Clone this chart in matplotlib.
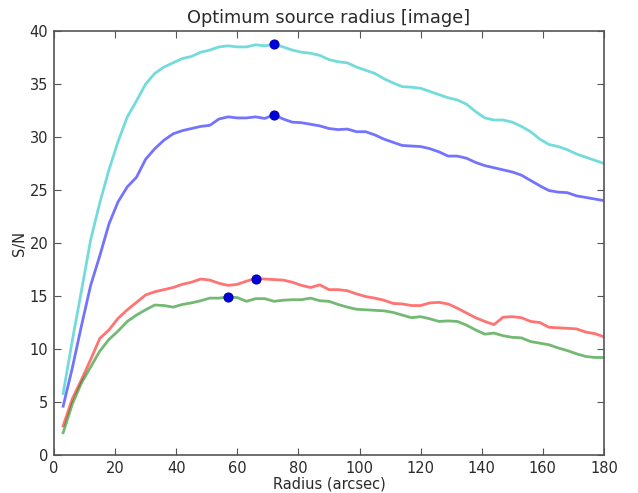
import numpy as np
import matplotlib
matplotlib.use("Agg")
import matplotlib.pyplot as plt

radius = np.arange(3, 181, 3)

sn_cyan = [5.8, 10.8, 15.5, 20.3, 23.8, 26.9, 29.6, 31.9, 33.4, 35.0,
           36.0, 36.6, 37.0, 37.4, 37.6, 38.0, 38.2, 38.5, 38.6, 38.5,
           38.5, 38.7, 38.6, 38.75, 38.5, 38.2, 38.0, 37.9, 37.7, 37.3,
           37.1, 37.0, 36.6, 36.3, 36.0, 35.5, 35.1, 34.75, 34.7, 34.6,
           34.3, 34.0, 33.7, 33.5, 33.1, 32.4, 31.8, 31.6, 31.6, 31.4,
           31.0, 30.5, 29.8, 29.3, 29.1, 28.8, 28.4, 28.1, 27.8, 27.5]
sn_blue = [4.6, 8.2, 12.2, 16.0, 18.8, 21.8, 23.9, 25.3, 26.2, 27.9,
           28.9, 29.7, 30.3, 30.6, 30.8, 31.0, 31.1, 31.7, 31.9, 31.8,
           31.8, 31.9, 31.75, 32.1, 31.7, 31.4, 31.35, 31.2, 31.05, 30.8,
           30.7, 30.75, 30.5, 30.5, 30.2, 29.8, 29.5, 29.2, 29.15, 29.1,
           28.9, 28.6, 28.2, 28.2, 28.0, 27.6, 27.3, 27.1, 26.9, 26.7,
           26.4, 25.9, 25.4, 24.95, 24.8, 24.75, 24.45, 24.3, 24.15, 24.0]
sn_red = [2.75, 5.3, 7.1, 9.0, 11.0, 11.8, 12.9, 13.7, 14.4, 15.1,
          15.4, 15.6, 15.8, 16.1, 16.3, 16.6, 16.5, 16.2, 16.0, 16.1,
          16.4, 16.65, 16.6, 16.55, 16.5, 16.3, 16.0, 15.8, 16.05, 15.6,
          15.6, 15.5, 15.2, 14.95, 14.8, 14.6, 14.3, 14.25, 14.1, 14.1,
          14.35, 14.4, 14.25, 13.85, 13.4, 12.95, 12.6, 12.3, 13.0, 13.05,
          12.95, 12.6, 12.5, 12.05, 12.0, 11.95, 11.9, 11.6, 11.45, 11.15]
sn_green = [2.1, 4.8, 6.8, 8.3, 9.8, 10.9, 11.7, 12.6, 13.2, 13.7,
            14.15, 14.1, 13.95, 14.2, 14.35, 14.55, 14.8, 14.8, 14.9, 14.85,
            14.5, 14.75, 14.75, 14.5, 14.6, 14.65, 14.65, 14.8, 14.55, 14.5,
            14.2, 13.95, 13.75, 13.7, 13.65, 13.6, 13.45, 13.2, 12.95, 13.05,
            12.85, 12.6, 12.65, 12.6, 12.25, 11.8, 11.4, 11.5, 11.25, 11.1,
            11.05, 10.7, 10.55, 10.4, 10.1, 9.85, 9.55, 9.3, 9.2, 9.2]

series = [(sn_cyan, (0.0, 0.75, 0.75)), (sn_blue, (0.0, 0.0, 1.0)),
          (sn_red, (1.0, 0.0, 0.0)), (sn_green, (0.0, 0.5, 0.0))]

txt = '#2a2a2a'
plt.rcParams['font.family'] = 'DejaVu Sans'

fig = plt.figure(figsize=(6.38, 4.93), dpi=100)
ax = fig.add_axes([0.0846, 0.0771, 0.862, 0.860])

for sn, col in series:
    sn = np.array(sn)
    ax.plot(radius, sn, '-', color=col, alpha=0.55, lw=2)
    # mark the best radius of each curve
    i = np.argmax(sn)
    ax.plot(radius[i], sn[i], 'o', color='#0000dd', markersize=6.5,
            markeredgecolor='#0000aa', markeredgewidth=0.8, zorder=5)

ax.set_xlim(0, 180)
ax.set_ylim(0, 40)
ax.set_xticks(np.arange(0, 181, 20))
ax.set_yticks(np.arange(0, 41, 5))
ax.tick_params(direction='in', top=True, right=True, length=5, width=0.8,
               colors='#555555', labelcolor=txt, labelsize=10.5, pad=4)
for s in ax.spines.values():
    s.set_color('#555555')
    s.set_linewidth(1.2)

ax.set_xlabel('Radius (arcsec)', fontsize=10.5, color=txt, labelpad=1)
ax.set_ylabel('S/N', fontsize=10.5, color=txt, labelpad=2)
ax.set_title('Optimum source radius [image]', fontsize=12.8, color=txt, pad=6)

fig.savefig('out.png', dpi=100)
